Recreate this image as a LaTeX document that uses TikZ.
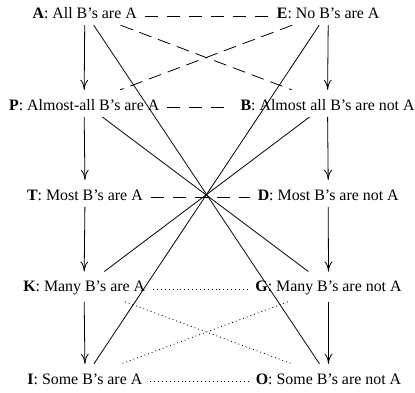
\documentclass[tikz,border=0pt]{standalone}
\usepackage{fontspec}
\setmainfont{Liberation Serif}
\usetikzlibrary{arrows.meta}
\begin{document}
\begin{tikzpicture}[x=1pt,y=-1pt,
  lbl/.style={anchor=base, inner xsep=8pt, inner ysep=6.7pt, outer sep=0pt,
    text height=13.5pt, font=\fontsize{15.9}{18}\selectfont},
  arr/.style={line width=0.8pt, -{Computer Modern Rightarrow[length=10pt,width=8pt]}},
  sol/.style={line width=0.8pt},
  dsh/.style={line width=0.8pt, dash pattern=on 13pt off 9pt},
  dsd/.style={line width=0.8pt, dash pattern=on 13pt off 7pt},
  dot/.style={line width=0.8pt, dash pattern=on 0.9pt off 3pt}]
\useasboundingbox (0,0) rectangle (415,392);
% left column
\node[lbl] (A) at (84.7,18.3) {\textbf{A}: All B’s are A};
\node[lbl] (P) at (84.2,110) {\textbf{P}: Almost-all B’s are A};
\node[lbl] (T) at (84.9,200) {\textbf{T}: Most B’s are A};
\node[lbl] (K) at (84.2,291.7) {\textbf{K}: Many B’s are A};
\node[lbl] (I) at (84.9,384) {\textbf{I}: Some B’s are A};
% right column
\node[lbl] (E) at (328.2,18.3) {\textbf{E}: No B’s are A};
\node[lbl] (B) at (327.6,110) {\textbf{B}: Almost all B’s are not A};
\node[lbl] (D) at (328.2,200) {\textbf{D}: Most B’s are not A};
\node[lbl] (G) at (328.5,291.7) {\textbf{G}: Many B’s are not A};
\node[lbl] (O) at (328.5,384) {\textbf{O}: Some B’s are not A};
% vertical arrows
\draw[arr] (A.south) -- (P.north);
\draw[arr] (P.south) -- (T.north);
\draw[arr] (T.south) -- (K.north);
\draw[arr] (K.south) -- (I.north);
\draw[arr] (E.south) -- (B.north);
\draw[arr] (B.south) -- (D.north);
\draw[arr] (D.south) -- (G.north);
\draw[arr] (G.south) -- (O.north);
% dashed
\draw[dsh] (A.mid east) -- (E.mid west);
\draw[dsh] (P.mid east) -- (B.mid west);
\draw[dsh] (T.mid east) -- (D.mid west);
\draw[dsd] (A) -- (B);
\draw[dsd] (E) -- (P);
% solid
\draw[sol] (A) -- (O);
\draw[sol] (E) -- (I);
\draw[sol] (P) -- (G);
\draw[sol] (B) -- (K);
% dotted
\draw[dot] (K.mid east) -- (G.mid west);
\draw[dot] (I.mid east) -- (O.mid west);
\draw[dot] (K) -- (O);
\draw[dot] (G) -- (I);
\end{tikzpicture}
\end{document}
